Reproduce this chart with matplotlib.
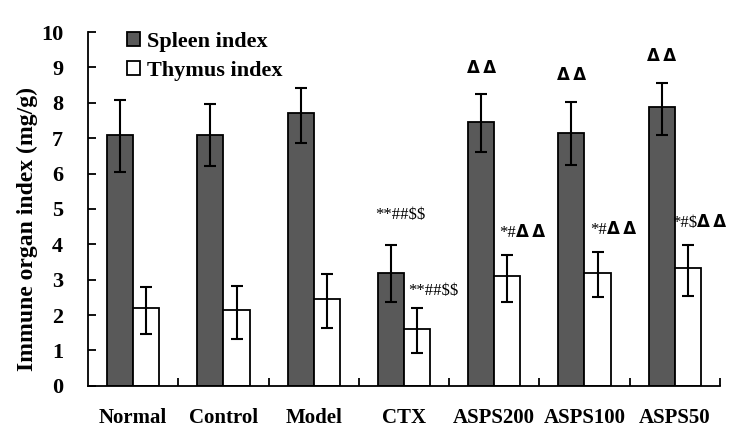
import numpy as np
import matplotlib.pyplot as plt

groups = ['Normal', 'Control', 'Model', 'CTX', 'ASPS200', 'ASPS100', 'ASPS50']
spleen = [7.10, 7.10, 7.70, 3.20, 7.46, 7.15, 7.88]
spleen_lo = [1.05, 0.90, 0.83, 0.82, 0.86, 0.91, 0.78]
spleen_hi = [0.97, 0.87, 0.72, 0.79, 0.78, 0.87, 0.69]
thymus = [2.19, 2.14, 2.46, 1.61, 3.09, 3.20, 3.33]
thymus_lo = [0.73, 0.82, 0.82, 0.69, 0.71, 0.70, 0.78]
thymus_hi = [0.59, 0.68, 0.70, 0.58, 0.61, 0.58, 0.64]
spleen_marks = ['', '', '', '**##$$', '\u0394\u0394', '\u0394\u0394', '\u0394\u0394']
thymus_marks = ['', '', '', '**##$$', '*#\u0394\u0394', '*#\u0394\u0394', '*#$\u0394\u0394']

plt.rcParams['font.family'] = ['Liberation Serif', 'DejaVu Serif']
plt.rcParams['font.weight'] = 'bold'
plt.rcParams['axes.labelweight'] = 'bold'
plt.rcParams['text.parse_math'] = False

fig = plt.figure(figsize=(7.53, 4.33), dpi=100)
ax = fig.add_axes([0.117, 0.109, 0.839, 0.817])

x = np.arange(len(groups)) + 0.5
w = 0.29
err_kw = dict(ecolor='black', elinewidth=1.5, capsize=4, capthick=1.5)
ax.bar(x - w / 2, spleen, w, yerr=[spleen_lo, spleen_hi], color='#595959',
       edgecolor='black', linewidth=1.3, error_kw=err_kw, label='Spleen index')
ax.bar(x + w / 2, thymus, w, yerr=[thymus_lo, thymus_hi], color='white',
       edgecolor='black', linewidth=1.3, error_kw=err_kw, label='Thymus index')


def mark(xc, y, s):
    # stars/hashes/dollars in plain serif, triangles in bold sans
    if '\u0394' in s:
        head = s.replace('\u0394', '')
        if head:
            ax.text(xc, y, head, ha='right', va='bottom', fontsize=12,
                    fontweight='normal', family=['Liberation Serif'])
        n = s.count('\u0394')
        ax.text(xc, y, '\u2009'.join(['\u0394'] * n), ha='left' if head else 'center',
                va='bottom', fontsize=12, fontweight='bold', family=['DejaVu Sans'])
        return
    ax.text(xc, y, s, ha='center', va='bottom', fontsize=12,
            fontweight='normal', family=['Liberation Serif'])


# significance marks above the error bars
for i in range(len(groups)):
    if spleen_marks[i]:
        top = spleen[i] + spleen_hi[i]
        if '\u0394' in spleen_marks[i]:
            mark(x[i] - w / 2, top + 0.5, spleen_marks[i])
        else:
            mark(x[i] - w / 2 + 0.1, top + 0.6, spleen_marks[i])
    if thymus_marks[i]:
        top = thymus[i] + thymus_hi[i]
        if '\u0394' in thymus_marks[i]:
            mark(x[i] + w / 2 + 0.1, top + 0.4, thymus_marks[i])
        else:
            mark(x[i] + w / 2 + 0.18, top + 0.25, thymus_marks[i])

ax.set_xlim(0, len(groups))
ax.set_ylim(0, 10)
ax.set_yticks(range(0, 11))
ax.tick_params(axis='y', direction='in', length=6, width=1.3, labelsize=16, pad=18)
ax.set_xticks(x)
ax.set_xticklabels(groups, fontsize=15)
ax.tick_params(axis='x', length=0, pad=16)
ax.set_xticks(np.arange(1, len(groups) + 1), minor=True)
ax.tick_params(axis='x', which='minor', direction='in', length=6, width=1.3)
ax.spines['top'].set_visible(False)
ax.spines['right'].set_visible(False)
ax.spines['left'].set_linewidth(1.3)
ax.spines['bottom'].set_linewidth(1.3)
ax.set_ylabel('Immune organ index (mg/g)', fontsize=17)
ax.yaxis.set_label_coords(-0.08, 0.443)

ax.legend(loc='upper left', bbox_to_anchor=(0.03, 1.057), frameon=False,
          prop={'size': 16, 'weight': 'bold'}, handlelength=0.6, handleheight=0.6,
          handletextpad=0.3, labelspacing=0.4)

fig.savefig('out.png', dpi=100)
